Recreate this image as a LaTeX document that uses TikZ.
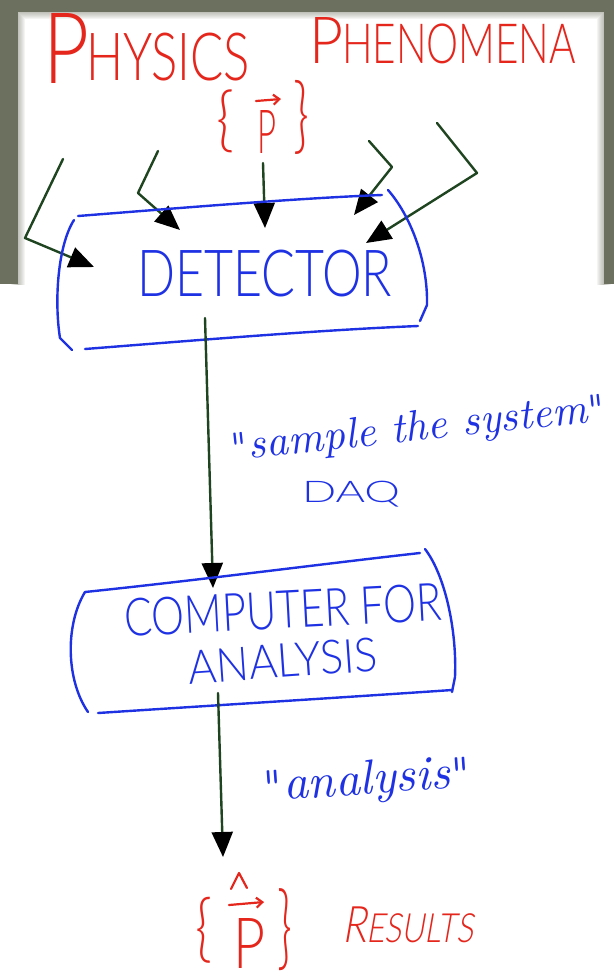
\documentclass[tikz,border=0pt]{standalone}
\usepackage{fontspec}
\usepackage{graphicx}
\newcommand\sethandfont[1]{%
  \newfontfamily\hand{#1}\newfontfamily\handsl{#1}[FakeSlant=0.22]}
\IfFontExistsTF{Lato Light}{\sethandfont{Lato Light}}{%
 \IfFontExistsTF{Open Sans Light}{\sethandfont{Open Sans Light}}{%
  \IfFontExistsTF{Poppins Light}{\sethandfont{Poppins Light}}{%
   \IfFontExistsTF{Noto Sans Light}{\sethandfont{Noto Sans Light}}{%
    \IfFontExistsTF{DejaVu Sans ExtraLight}{\sethandfont{DejaVu Sans ExtraLight}}{%
     \newfontfamily\hand{lmmonoproplt10}[Extension=.otf, UprightFont=*-regular]%
     \newfontfamily\handsl{lmmonoproplt10}[Extension=.otf, UprightFont=*-oblique]}}}}}
\newfontfamily\quotefont{lmmonoproplt10}[Extension=.otf, UprightFont=*-regular]
\usetikzlibrary{arrows.meta}
\definecolor{inkred}{RGB}{228,38,28}
\definecolor{inkblue}{RGB}{30,50,228}
\definecolor{inkgreen}{RGB}{30,68,32}
\definecolor{framecol}{RGB}{108,112,94}
\begin{document}
\begin{tikzpicture}[x=1pt,y=-1pt,
  bx/.style={draw=inkblue, line width=2.4pt, line cap=round, line join=round},
  feed/.style={draw=inkgreen, line width=2.4pt, line cap=round, line join=round,
    -{Triangle[length=25pt,width=21pt,color=black]}},
  vecmark/.style={draw=inkred, line width=2.2pt, line cap=round, line join=round},
  lbl/.style={inner sep=0pt, outer sep=0pt, anchor=north west},
  red/.style={lbl, text=inkred},
  blue/.style={lbl, text=inkblue}]
\useasboundingbox (0,0) rectangle (614,978);
\fill[white] (0,0) rectangle (614,978);
% photo frame
\fill[framecol] (0,0) rectangle (614,284);
\fill[white] (18,12) rectangle (604,284);
\begin{scope}
  \clip (0,0) rectangle (614,284);
  \foreach \w in {2,4,...,14} {
    \draw[framecol, opacity=0.07, line width=\w pt] (18,300) -- (18,12) -- (604,12) -- (604,300);
  }
\end{scope}
% title
\node[red] (phy1) at (44,13) {\resizebox*{46pt}{70pt}{\hand P}};
\node[red] (phy2) at (86,33) {\resizebox*{164pt}{48pt}{\hand HYSICS}};
\node[red] (phe1) at (309,17) {\resizebox*{34pt}{46pt}{\hand P}};
\node[red] (phe2) at (342,24) {\resizebox*{234pt}{40pt}{\hand HENOMENA}};
% {p vec}
\node[red] (lb1) at (216,90) {\resizebox*{18pt}{63pt}{\hand\{}};
\node[red] (pv1) at (257,110) {\resizebox*{19pt}{43pt}{\hand P}};
\node[red] (rb1) at (293,80) {\resizebox*{16pt}{74pt}{\hand\}}};
\draw[vecmark, -{Straight Barb[length=6pt,width=10pt]}] (256,101) -- (281,99);
% incoming arrows
\coordinate (s1) at (63,159);  \coordinate (k1) at (25,238);  \coordinate (t1) at (94,267);
\coordinate (s2) at (158,151); \coordinate (k2) at (138,193); \coordinate (t2) at (180,230);
\coordinate (s3) at (263,163); \coordinate (t3) at (265,228);
\coordinate (s4) at (369,141); \coordinate (k4) at (392,167); \coordinate (t4) at (354,215);
\coordinate (s5) at (437,123); \coordinate (k5) at (477,173); \coordinate (t5) at (366,243);
\draw[feed] (s1) -- (k1) -- (t1);
\draw[feed] (s2) -- (k2) -- (t2);
\draw[feed] (s3) -- (t3);
\draw[feed] (s4) -- (k4) -- (t4);
\draw[feed] (s5) -- (k5) -- (t5);
% detector box
\draw[bx] (78,216) .. controls (180,208) and (300,198) .. (382,195);
\draw[bx] (388,190) .. controls (410,215) and (428,260) .. (427,305) -- (420,321);
\draw[bx] (74,220) .. controls (58,245) and (54,300) .. (60,338) -- (72,350);
\draw[bx] (85,349) .. controls (200,340) and (320,330) .. (418,326);
\node[blue] (det) at (137,250) {\resizebox*{255pt}{47pt}{\hand DETECTOR}};
% DAQ arrow
\coordinate (d0) at (205,318);
\coordinate (d1) at (213,588);
\draw[feed] (d0) -- (d1);
\node[text=inkblue, inner sep=0pt, rotate=6] (smp) at (418,430) {\resizebox{378pt}{!}{{\quotefont"}\itshape sample the system{\quotefont"}}};
\node[blue] (daq) at (302,481) {\resizebox*{98pt}{26pt}{\hand DAQ}};
% computer box
\draw[bx] (85,592) .. controls (200,580) and (330,563) .. (420,553);
\draw[bx] (425,549) .. controls (445,575) and (457,630) .. (455,677) -- (452,692);
\draw[bx] (85,592) .. controls (65,625) and (66,680) .. (88,712);
\draw[bx] (98,713) .. controls (220,705) and (350,697) .. (452,690);
\node[text=inkblue, inner sep=0pt, rotate=3] (comp) at (283,610) {\resizebox*{318pt}{38pt}{\hand COMPUTER FOR}};
\node[text=inkblue, inner sep=0pt, rotate=4] (anl) at (283,661) {\resizebox*{190pt}{34pt}{\hand ANALYSIS}};
% analysis arrow
\coordinate (a0) at (218,693);
\coordinate (a1) at (223,857);
\draw[feed] (a0) -- (a1);
\node[text=inkblue, inner sep=0pt, rotate=4] (anq) at (367,782) {\resizebox{210pt}{!}{{\quotefont"}\itshape analysis{\quotefont"}}};
% results
\node[red] (lb2) at (195,897) {\resizebox*{17pt}{66pt}{\hand\{}};
\node[red] (pv2) at (233,918) {\resizebox*{32pt}{50pt}{\hand P}};
\node[red] (rb2) at (277,889) {\resizebox*{15pt}{82pt}{\hand\}}};
\draw[vecmark, -{Straight Barb[length=6pt,width=10pt]}] (229,905) -- (264,902);
\draw[vecmark] (231,889) -- (239,873) -- (247,888);
\node[red] (res) at (342,907) {\resizebox*{131pt}{36pt}{\handsl R\scalebox{0.8}{ESULTS}}};
\end{tikzpicture}
\end{document}
